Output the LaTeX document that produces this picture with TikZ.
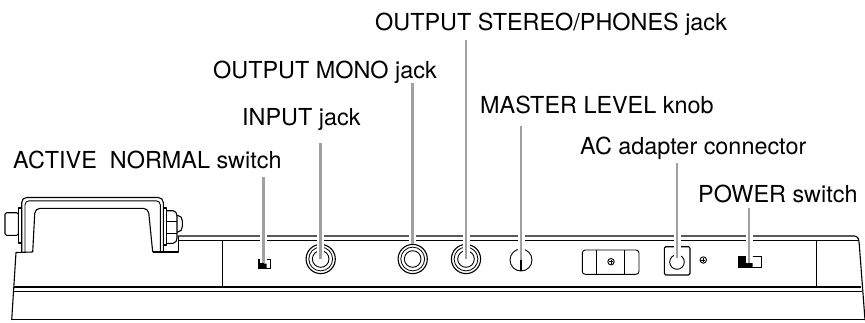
\documentclass[tikz,border=0pt]{standalone}
\usepackage{fontspec}
\usetikzlibrary{calc}
\setmainfont{TeX Gyre Heros}
\newcommand\labfont{\fontsize{23.4}{28}\selectfont}
\definecolor{leadgray}{RGB}{160,160,160}
\tikzset{
  body/.style={line width=1.1pt, black, line join=round},
  thin/.style={line width=0.9pt, black},
  leader/.style={draw=leadgray, line width=2.7pt, preaction={draw=white, line width=7pt}},
  lab/.style={anchor=base west, inner sep=0pt, font=\labfont},
  screw/.pic={\draw[thin] (0,0) circle [radius=3.2pt]; \draw[line width=0.7pt] (-2pt,0) -- (2pt,0) (0,-2pt) -- (0,2pt);}
}
\begin{document}
\begin{tikzpicture}[x=1pt,y=-1pt]
\useasboundingbox (0,0) rectangle (865,322);
% ---------- labels ----------
\node[lab] (lstereo) at (375,30) {OUTPUT STEREO/PHONES jack};
\node[lab] (lmono) at (213,78) {OUTPUT MONO jack};
\node[lab] (lmaster) at (480,113) {MASTER LEVEL knob};
\node[lab] (linput) at (242,125) {INPUT jack};
\node[lab] (lac) at (580,154) {AC adapter connector};
\node[lab] (lactive) at (13,168) {ACTIVE\ \ NORMAL switch};
\node[lab] (lpower) at (698,202) {POWER switch};
% ---------- body ----------
% handle
\draw[body, rounded corners=5pt] (21.7,252) -- (21.7,197.5) -- (163.3,197.5) -- (163.3,252);
\draw[thin, rounded corners=4pt] (25,252) -- (25,200.8) -- (160.3,200.8) -- (160.3,252);
\draw[body, rounded corners=5pt] (32.7,252) -- (35,208.3) -- (148.3,208.3) -- (152.7,252);
% left bolt
\draw[body, rounded corners=1.5pt] (5,212.7) rectangle (18.3,235.3);
\draw[body] (18.3,208) rectangle (21.7,243);
% right bolt
\draw[body] (163.3,208) rectangle (166.3,245);
\draw[body, rounded corners=2pt] (166.3,210.7) -- (175,210.7) -- (177,214) -- (177,240) -- (175,243.3) -- (166.3,243.3);
\draw[thin] (166.3,221) -- (176.5,221) (166.3,233) -- (176.5,233);
\draw[body, rounded corners=2pt] (177,215.5) -- (180,215.5) -- (182.3,219) -- (182.3,228.5) -- (180,232) -- (177,232);
% left block and step
\draw[body] (11.7,320) -- (16,252.5) -- (32.7,252);
\draw[body] (152.7,252) -- (178.3,252) -- (178.3,236);
% panel top double line with right corner
\draw[body, rounded corners=3pt] (178.3,236) -- (857.5,236) -- (859,241) -- (865,320);
\draw[body] (178.3,240.5) -- (858.5,240.5);
% block edges
\draw[body] (222.7,240.5) -- (222.7,287);
\draw[body] (816.7,240.5) -- (816.7,287);
% lower lines
\draw[body] (14.3,287) -- (861.3,287);
\draw[thin] (14,291.7) -- (861.9,291.7);
\draw[thin] (11.7,319.5) -- (865,319.5);
% ---------- components ----------
% active/normal switch
\coordinate (swa) at (263.5,263);
\fill (258.3,259.3) -- (264,259.3) -- (264,263.5) -- (266.5,263.5) -- (266.5,268.3) -- (258.3,268.3) -- cycle;
\draw[thin] (258.3,259.3) rectangle (270,268.3);
% jacks
\coordinate (injack) at (320.7,259);
\coordinate (monojack) at (412.7,259);
\coordinate (stjack) at (466,259);
\foreach \j in {injack,monojack,stjack}{
  \draw[line width=1.1pt] (\j) circle [radius=14.6pt];
  \draw[line width=0.8pt] (\j) circle [radius=11.9pt];
  \draw[line width=0.9pt] (\j) circle [radius=8.3pt];
}
% master level knob
\coordinate (knob) at (521,260);
\draw[thin] (knob) circle [radius=11pt];
% slider with screw
\draw[thin, rounded corners=3pt] (582.3,250) rectangle (639,274.3);
\draw[thin] (596.7,250) -- (596.7,274.3) (624,250) -- (624,274.3);
\pic at (611,261.7) {screw};
% AC adapter
\coordinate (acjack) at (677,262);
\draw[body, rounded corners=1.5pt] (664.3,246.7) rectangle (690,275);
\draw[thin] (acjack) circle [radius=7.3pt];
\pic at (703.3,260) {screw};
% power switch
\coordinate (swp) at (749,263);
\fill (738,256) -- (746,256) -- (746,262) -- (752.5,262) -- (752.5,267) -- (738,267) -- cycle;
\draw[thin] (738,256) rectangle (761,267);
% ---------- leaders ----------
\coordinate (tactive) at (263.5,177);
\coordinate (tinput) at (320.7,143);
\coordinate (tmono) at (412.7,83);
\coordinate (tstereo) at (466,40);
\coordinate (tmaster) at (521,126);
\coordinate (tac) at (677,163);
\coordinate (tpower) at (749,208);
\draw[leader] (tactive) -- (swa);
\draw[leader] (tinput) -- (injack);
\draw[leader] (tmono) -- ($(monojack)+(0,-15)$);
\draw[leader] (tstereo) -- (stjack);
\draw[leader] (tmaster) -- (knob);
\draw[line width=1.1pt] (knob) -- ++(0,11);
\draw[leader] (tac) -- ($(acjack)+(0,-4)$);
\draw[leader] (tpower) -- (swp);
\end{tikzpicture}
\end{document}
